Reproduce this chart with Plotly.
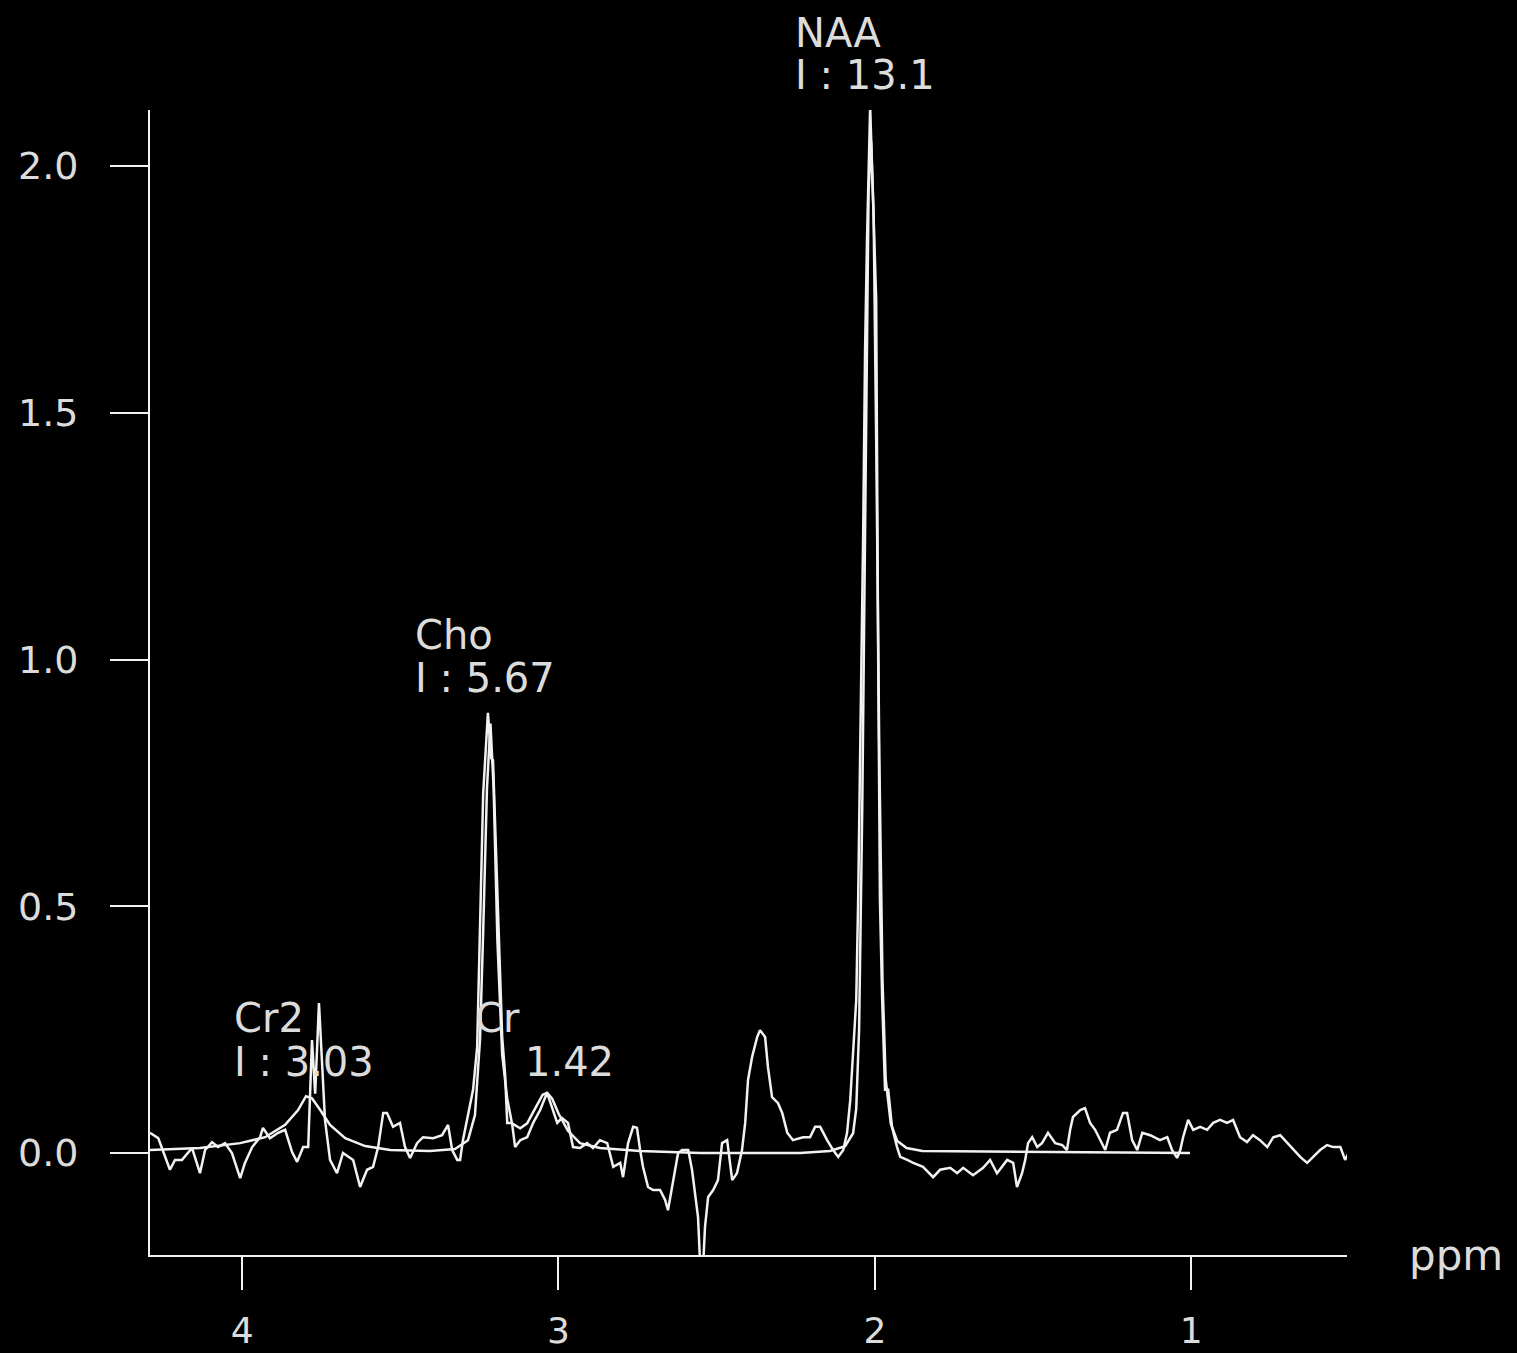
import plotly.graph_objects as go

# measured spectrum (ppm, amplitude)
raw_ppm = [
    4.291, 4.265, 4.228, 4.212, 4.190, 4.158, 4.133, 4.117, 4.095, 4.076,
    4.054, 4.032, 4.006, 3.991, 3.968, 3.943, 3.934, 3.912, 3.886, 3.864,
    3.842, 3.826, 3.807, 3.791, 3.779, 3.769, 3.757, 3.738, 3.722, 3.700,
    3.681, 3.649, 3.627, 3.605, 3.586, 3.570, 3.554, 3.542, 3.523, 3.501,
    3.485, 3.469, 3.447, 3.428, 3.396, 3.368, 3.349, 3.336, 3.320, 3.311,
    3.302, 3.286, 3.270, 3.257, 3.248, 3.238, 3.223, 3.213, 3.207, 3.197,
    3.191, 3.178, 3.169, 3.162, 3.147, 3.137, 3.121, 3.099, 3.080, 3.058,
    3.036, 3.020, 3.004, 2.989, 2.970, 2.954, 2.932, 2.910, 2.891, 2.869,
    2.846, 2.827, 2.805, 2.796, 2.780, 2.764, 2.752, 2.742, 2.733, 2.717,
    2.701, 2.679, 2.663, 2.654, 2.641, 2.632, 2.622, 2.609, 2.590, 2.578,
    2.568, 2.559, 2.552, 2.543, 2.537, 2.527, 2.511, 2.496, 2.483, 2.467,
    2.451, 2.436, 2.420, 2.410, 2.401, 2.388, 2.372, 2.363, 2.347, 2.338,
    2.325, 2.306, 2.293, 2.277, 2.259, 2.227, 2.205, 2.189, 2.173, 2.151,
    2.132, 2.116, 2.100, 2.088, 2.078, 2.069, 2.059, 2.053, 2.044, 2.037,
    2.031, 2.025, 2.015, 2.006, 1.996, 1.990, 1.984, 1.977, 1.968, 1.958,
    1.946, 1.930, 1.920, 1.898, 1.879, 1.848, 1.816, 1.794, 1.762, 1.740,
    1.721, 1.690, 1.658, 1.636, 1.614, 1.582, 1.563, 1.551, 1.535, 1.525,
    1.516, 1.503, 1.487, 1.472, 1.453, 1.430, 1.408, 1.393, 1.383, 1.374,
    1.351, 1.336, 1.320, 1.304, 1.288, 1.272, 1.257, 1.235, 1.216, 1.203,
    1.187, 1.171, 1.155, 1.130, 1.099, 1.076, 1.061, 1.045, 1.035, 1.026,
    1.010, 0.994, 0.972, 0.950, 0.931, 0.909, 0.887, 0.868, 0.846, 0.824,
    0.805, 0.783, 0.760, 0.741, 0.719, 0.697, 0.678, 0.656, 0.634, 0.615,
    0.593, 0.571, 0.552, 0.529, 0.514, 0.498,
]
raw_amp = [
    0.041, 0.030, -0.034, -0.014, -0.014, 0.010, -0.041, 0.006, 0.022, 0.012,
    0.020, 0.000, -0.051, -0.020, 0.012, 0.032, 0.051, 0.030, 0.041, 0.047,
    0.002, -0.018, 0.012, 0.012, 0.229, 0.120, 0.304, 0.067, -0.014, -0.041,
    0.000, -0.014, -0.069, -0.034, -0.028, 0.012, 0.081, 0.081, 0.053, 0.061,
    0.012, -0.010, 0.020, 0.032, 0.030, 0.036, 0.057, 0.006, -0.014, -0.014,
    0.026, 0.081, 0.128, 0.215, 0.458, 0.729, 0.892, 0.800, 0.796, 0.600,
    0.478, 0.235, 0.162, 0.061, 0.061, 0.012, 0.026, 0.032, 0.061, 0.087,
    0.122, 0.093, 0.061, 0.071, 0.061, 0.012, 0.010, 0.020, 0.010, 0.026,
    0.020, -0.028, -0.020, -0.049, 0.020, 0.053, 0.051, 0.006, -0.028, -0.069,
    -0.075, -0.075, -0.095, -0.116, -0.069, -0.041, 0.000, 0.006, 0.006, -0.034,
    -0.089, -0.130, -0.230, -0.230, -0.150, -0.089, -0.075, -0.055, 0.020, 0.026,
    -0.055, -0.041, 0.006, 0.061, 0.148, 0.195, 0.235, 0.249, 0.235, 0.174,
    0.113, 0.101, 0.081, 0.041, 0.026, 0.032, 0.032, 0.053, 0.053, 0.026,
    0.006, -0.008, 0.006, 0.041, 0.107, 0.209, 0.310, 0.510, 0.920, 1.260,
    1.630, 1.850, 2.120, 1.930, 1.730, 1.040, 0.510, 0.310, 0.128, 0.128,
    0.053, 0.012, -0.008, -0.014, -0.020, -0.028, -0.049, -0.034, -0.030, -0.041,
    -0.030, -0.045, -0.030, -0.014, -0.041, -0.014, -0.020, -0.069, -0.041, -0.014,
    0.020, 0.032, 0.012, 0.020, 0.041, 0.020, 0.016, 0.006, 0.047, 0.073,
    0.087, 0.091, 0.061, 0.047, 0.026, 0.006, 0.041, 0.047, 0.081, 0.081,
    0.026, 0.006, 0.041, 0.036, 0.026, 0.032, 0.006, -0.010, 0.006, 0.032,
    0.067, 0.047, 0.053, 0.047, 0.061, 0.067, 0.061, 0.067, 0.032, 0.022,
    0.036, 0.026, 0.012, 0.032, 0.036, 0.020, 0.006, -0.008, -0.020, -0.008,
    0.006, 0.016, 0.012, 0.012, -0.014, 0.006,
]

# fitted model curve
fit_ppm = [
    4.291, 4.133, 4.006, 3.927, 3.864, 3.823, 3.798, 3.779, 3.753, 3.722,
    3.674, 3.611, 3.532, 3.406, 3.327, 3.286, 3.264, 3.248, 3.238, 3.226,
    3.215, 3.205, 3.193, 3.178, 3.162, 3.147, 3.121, 3.099, 3.074, 3.050,
    3.036, 3.020, 3.000, 2.970, 2.932, 2.869, 2.742, 2.552, 2.236, 2.142,
    2.094, 2.069, 2.059, 2.050, 2.040, 2.030, 2.020, 2.012, 2.004, 1.996,
    1.986, 1.976, 1.966, 1.950, 1.930, 1.900, 1.850, 1.004,
]
fit_amp = [
    0.006, 0.010, 0.020, 0.032, 0.057, 0.087, 0.115, 0.111, 0.087, 0.057,
    0.030, 0.014, 0.006, 0.004, 0.008, 0.026, 0.077, 0.230, 0.450, 0.740,
    0.870, 0.740, 0.430, 0.200, 0.110, 0.060, 0.050, 0.060, 0.090, 0.118,
    0.122, 0.110, 0.080, 0.045, 0.020, 0.010, 0.004, 0.000, 0.000, 0.004,
    0.014, 0.040, 0.090, 0.250, 0.700, 1.400, 1.950, 2.050, 1.900, 1.450,
    0.800, 0.350, 0.150, 0.060, 0.025, 0.010, 0.004, 0.000,
]

x_ticks = [4, 3, 2, 1]
y_ticks = [0.0, 0.5, 1.0, 1.5, 2.0]
y_labels = ["0.0", "0.5", "1.0", "1.5", "2.0"]

peak_names = ["NAA", "Cho", "Cr2", "Cr"]
peak_ints = ["I : 13.1", "I : 5.67", "I : 3.03", "1.42"]

line_col = "#f2f2f2"
text_col = "#dcdcdc"
font_name = "DejaVu Sans"

fig = go.Figure()
fig.add_trace(go.Scatter(x=fit_ppm, y=fit_amp, mode="lines",
                         line=dict(color=line_col, width=2.5), hoverinfo="skip"))
fig.add_trace(go.Scatter(x=raw_ppm, y=raw_amp, mode="lines",
                         line=dict(color=line_col, width=2.5), hoverinfo="skip"))

# label positions: (x of name, y of name, x of intensity, y of intensity, yref)
label_pos = [
    (2.2585, 1.0672, 2.2585, 1.0306, "paper"),
    (3.4595, 1.0496, 3.4595, 0.9625, "y"),
    (4.0316, 0.2736, 4.0316, 0.1844, "y"),
    (3.2700, 0.2736, 3.1120, 0.1844, "y"),
]
for name, inten, (x1, y1, x2, y2, yr) in zip(peak_names, peak_ints, label_pos):
    fig.add_annotation(x=x1, y=y1, yref=yr, text=name, showarrow=False,
                       xanchor="left", yanchor="middle",
                       font=dict(family=font_name, size=40, color=text_col))
    fig.add_annotation(x=x2, y=y2, yref=yr, text=inten, showarrow=False,
                       xanchor="left", yanchor="middle",
                       font=dict(family=font_name, size=40, color=text_col))

fig.add_annotation(x=1.05, y=0, xref="paper", yref="paper", text="ppm",
                   showarrow=False, xanchor="left", yanchor="middle",
                   font=dict(family=font_name, size=42, color=text_col))

fig.update_layout(
    width=1517, height=1353,
    margin=dict(l=150, r=170, t=110, b=98),
    paper_bgcolor="black",
    plot_bgcolor="black",
    showlegend=False,
    hovermode=False,
    font=dict(family=font_name, size=38, color=text_col),
    xaxis=dict(range=[4.291, 0.508], showgrid=False, zeroline=False,
               showline=True, linecolor=line_col, linewidth=2,
               ticks="outside", ticklen=33, tickwidth=2, tickcolor=line_col,
               tickvals=x_ticks, ticktext=[str(v) for v in x_ticks],
               tickfont=dict(size=36),
               ticklabelstandoff=10, automargin=False),
    yaxis=dict(range=[-0.2067, 2.1135], showgrid=False, zeroline=False,
               showline=True, linecolor=line_col, linewidth=2,
               ticks="outside", ticklen=38, tickwidth=2, tickcolor=line_col,
               tickvals=y_ticks, ticktext=y_labels,
               ticklabelstandoff=24, automargin=False),
)

fig.write_html(
    "out.html",
    config={"displayModeBar": False},
    post_script="document.body.style.margin='0';"
                "document.body.style.background='black';",
)
